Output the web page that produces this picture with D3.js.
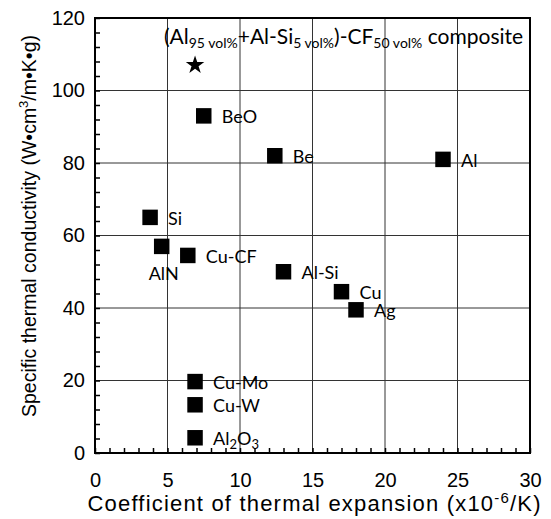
<!DOCTYPE html>
<html>
<head>
<meta charset="utf-8">
<script src="https://cdn.jsdelivr.net/npm/d3@7"></script>
<style>
  body { margin: 0; background: #fff; }
  svg { display: block; }
</style>
</head>
<body>
<svg id="chart" width="551" height="519"></svg>
<script>
// Heat-sink materials: thermal expansion vs specific thermal conductivity
const materials = ["BeO", "Be", "Al", "Si", "AlN", "Cu-CF", "Al-Si", "Cu", "Ag", "Cu-Mo", "Cu-W", "Al2O3"];
const expansion = [7.5, 12.4, 24.0, 3.8, 4.6, 6.4, 13.0, 17.0, 18.0, 6.9, 6.9, 6.9];
const conductivity = [93, 82, 81, 65, 57, 54.5, 50, 44.5, 39.5, 19.7, 13.3, 4.2];

// The composite highlighted with a star
const compositeExpansion = [6.9];
const compositeConductivity = [107];

const xTicks = [0, 5, 10, 15, 20, 25, 30];
const yTicks = [0, 20, 40, 60, 80, 100, 120];
const xMinorTicks = d3.range(0, 31, 1);
const yMinorTicks = d3.range(0, 121, 4);

const svg = d3.select("#chart");
const plotLeft = 95, plotRight = 530, plotTop = 18, plotBottom = 453;

const x = d3.scaleLinear().domain([0, 30]).range([plotLeft, plotRight]);
const y = d3.scaleLinear().domain([0, 120]).range([plotBottom, plotTop]);

const axisFont = "'Liberation Sans', Arial, Helvetica, sans-serif";
const labelFont = "Lato, 'Open Sans', sans-serif";

// grid lines at interior major ticks
const grid = svg.append("g").attr("stroke", "#333").attr("stroke-width", 1);
grid.selectAll("line.gx")
  .data(xTicks.filter(t => t > 0 && t < 30))
  .join("line")
  .attr("class", "gx")
  .attr("x1", d => x(d)).attr("x2", d => x(d))
  .attr("y1", plotTop).attr("y2", plotBottom);
grid.selectAll("line.gy")
  .data(yTicks.filter(t => t > 0 && t < 120))
  .join("line")
  .attr("class", "gy")
  .attr("x1", plotLeft).attr("x2", plotRight)
  .attr("y1", d => y(d)).attr("y2", d => y(d));

// minor ticks pointing into the plot
const xMinor = svg.append("g")
  .attr("transform", `translate(0,${plotBottom})`)
  .call(d3.axisBottom(x).tickValues(xMinorTicks).tickSize(-5).tickFormat(""));
xMinor.select(".domain").remove();
xMinor.selectAll("line").attr("stroke", "#000").attr("stroke-width", 1.5);

const yMinor = svg.append("g")
  .attr("transform", `translate(${plotLeft},0)`)
  .call(d3.axisLeft(y).tickValues(yMinorTicks).tickSize(-5).tickFormat(""));
yMinor.select(".domain").remove();
yMinor.selectAll("line").attr("stroke", "#000").attr("stroke-width", 1.5);

// tick labels
const xAxis = svg.append("g")
  .attr("transform", `translate(0,${plotBottom})`)
  .call(d3.axisBottom(x).tickValues(xTicks).tickSize(0).tickPadding(20));
xAxis.select(".domain").remove();
xAxis.selectAll("text").attr("font-family", axisFont).attr("font-size", 20).attr("fill", "#000");

const yAxis = svg.append("g")
  .attr("transform", `translate(${plotLeft},0)`)
  .call(d3.axisLeft(y).tickValues(yTicks).tickSize(0).tickPadding(10));
yAxis.select(".domain").remove();
yAxis.selectAll("text").attr("font-family", axisFont).attr("font-size", 20).attr("fill", "#000");

// plot frame
svg.append("rect")
  .attr("x", plotLeft).attr("y", plotTop)
  .attr("width", plotRight - plotLeft).attr("height", plotBottom - plotTop)
  .attr("fill", "none").attr("stroke", "#000").attr("stroke-width", 2);

// axis titles
const xTitle = svg.append("text")
  .attr("x", 314).attr("y", 511)
  .attr("text-anchor", "middle")
  .attr("textLength", 453)
  .attr("lengthAdjust", "spacing")
  .attr("font-family", axisFont).attr("font-size", 22);
xTitle.append("tspan").text("Coefficient of thermal expansion (x10");
xTitle.append("tspan").attr("dy", -8).attr("font-size", 15).text("-6");
xTitle.append("tspan").attr("dy", 8).text("/K)");

const yTitle = svg.append("text")
  .attr("transform", `translate(36,226) rotate(-90)`)
  .attr("text-anchor", "middle")
  .attr("font-family", axisFont).attr("font-size", 19.5);
yTitle.append("tspan").text("Specific thermal conductivity (W\u2022cm");
yTitle.append("tspan").attr("dy", -8).attr("font-size", 13).text("3");
yTitle.append("tspan").attr("dy", 8).text("/m\u2022K\u2022g)");

// material markers
const points = materials.map((m, i) => ({ name: m, cx: expansion[i], cy: conductivity[i] }));

svg.append("g").selectAll("path")
  .data(points)
  .join("path")
  .attr("d", d3.symbol(d3.symbolSquare).size(240))
  .attr("transform", d => `translate(${x(d.cx)},${y(d.cy)})`)
  .attr("fill", "#000");

// labels, digits drawn as subscripts (Al2O3)
const labels = svg.append("g").attr("font-family", labelFont).attr("font-size", 18).attr("fill", "#000");
points.forEach(d => {
  const below = d.name === "AlN";
  const t = labels.append("text")
    .attr("x", below ? x(d.cx) + 2 : x(d.cx) + 18)
    .attr("y", below ? y(d.cy) + 34 : y(d.cy) + 7.5)
    .attr("text-anchor", below ? "middle" : "start");
  const parts = d.name.match(/\d+|\D+/g);
  let shifted = false;
  parts.forEach(p => {
    if (/^\d+$/.test(p)) {
      t.append("tspan").attr("dy", shifted ? 0 : 4).attr("font-size", 13).text(p);
      shifted = true;
    } else {
      t.append("tspan").attr("dy", shifted ? -4 : 0).text(p);
      shifted = false;
    }
  });
});

// composite marker
svg.append("g").selectAll("path")
  .data(compositeExpansion.map((v, i) => ({ cx: v, cy: compositeConductivity[i] })))
  .join("path")
  .attr("d", d3.symbol(d3.symbolStar).size(106))
  .attr("transform", d => `translate(${x(d.cx)},${y(d.cy)})`)
  .attr("fill", "#000");

// composite caption with subscripted volume fractions
const caption = svg.append("text")
  .attr("x", 164).attr("y", 44)
  .attr("font-family", labelFont).attr("font-size", 21);
const captionParts = [
  ["(Al", false], ["95 vol%", true], ["+Al-Si", false], ["5 vol%", true],
  [")-CF", false], ["50 vol%", true], [" composite", false]
];
captionParts.forEach(([s, sub], i) => {
  const ts = caption.append("tspan").text(s);
  if (sub) ts.attr("dy", 4).attr("font-size", 14);
  else if (i > 0) ts.attr("dy", -4);
});
</script>
</body>
</html>
